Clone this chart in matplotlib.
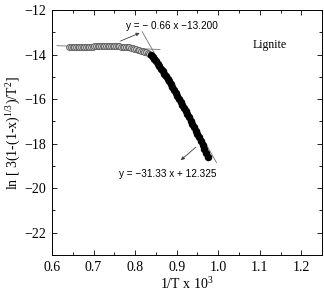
import matplotlib
matplotlib.use('Agg')
import matplotlib.pyplot as plt
from matplotlib.ticker import MultipleLocator

plt.rcParams['font.family'] = ['Liberation Serif', 'DejaVu Serif']
plt.rcParams['mathtext.fontset'] = 'custom'
plt.rcParams['mathtext.rm'] = 'Liberation Serif'
plt.rcParams['mathtext.it'] = 'Liberation Serif'

# low temperature region (open circles)
x_low = [0.642, 0.646, 0.650, 0.654, 0.658, 0.662, 0.666, 0.670, 0.674, 0.678,
         0.682, 0.686, 0.690, 0.694, 0.698, 0.702, 0.706, 0.710, 0.714, 0.718,
         0.722, 0.726, 0.730, 0.734, 0.738, 0.742, 0.746, 0.750, 0.754, 0.758,
         0.762, 0.766, 0.770, 0.774, 0.778, 0.782, 0.786, 0.790, 0.794, 0.798,
         0.802, 0.806, 0.810, 0.814, 0.818, 0.822, 0.826, 0.830, 0.834]
y_low = [-13.67, -13.67, -13.67, -13.66, -13.66, -13.66, -13.66, -13.65, -13.65, -13.65,
         -13.65, -13.64, -13.64, -13.64, -13.64, -13.63, -13.63, -13.63, -13.63, -13.63,
         -13.62, -13.62, -13.62, -13.62, -13.62, -13.62, -13.62, -13.62, -13.62, -13.63,
         -13.63, -13.64, -13.64, -13.65, -13.66, -13.67, -13.68, -13.70, -13.72, -13.74,
         -13.76, -13.78, -13.80, -13.83, -13.85, -13.88, -13.90, -13.93, -13.96]

# high temperature region (filled circles)
x_high = [0.838, 0.842, 0.846, 0.850, 0.854, 0.858, 0.862, 0.866, 0.870, 0.874,
          0.878, 0.882, 0.886, 0.890, 0.894, 0.898, 0.902, 0.906, 0.910, 0.914,
          0.918, 0.922, 0.926, 0.930, 0.934, 0.938, 0.942, 0.946, 0.950, 0.954,
          0.958, 0.963, 0.967, 0.971, 0.975]
y_high = [-14.00, -14.10, -14.20, -14.30, -14.41, -14.52, -14.63, -14.74, -14.85, -14.96,
          -15.08, -15.20, -15.33, -15.46, -15.59, -15.72, -15.85, -15.98, -16.11, -16.25,
          -16.39, -16.53, -16.67, -16.81, -16.96, -17.11, -17.26, -17.41, -17.56, -17.71,
          -17.86, -18.07, -18.25, -18.43, -18.62]

# fitted lines as drawn
fit1_x = [0.612, 0.860]
fit1_y = [-13.60, -13.77]
fit2_x = [0.817, 0.996]
fit2_y = [-12.97, -18.85]

eq1 = 'y = \u2212 0.66 x \u221213.200'
eq2 = 'y = \u221231.33 x + 12.325'

fig = plt.figure(figsize=(3.24, 2.96), dpi=100)
ax = fig.add_axes([0.1605, 0.1385, 0.8335, 0.8275])

ax.plot(fit1_x, fit1_y, color='0.45', lw=0.6, zorder=1)
ax.plot(fit2_x, fit2_y, color='0.45', lw=0.6, zorder=1)

ax.plot(x_low, y_low, 'o', ms=4.2, mfc='0.8', mec='0.35', mew=0.6, zorder=2)
ax.plot(x_high, y_high, 'o', ms=4.4, color='black', zorder=3)

ax.annotate('', xy=(0.811, -13.03), xytext=(0.765, -13.39),
            arrowprops=dict(arrowstyle='-|>', color='0.25', lw=0.6,
                            mutation_scale=5, shrinkA=0, shrinkB=0))
ax.annotate('', xy=(0.910, -18.74), xytext=(0.946, -18.16),
            arrowprops=dict(arrowstyle='-|>', color='0.25', lw=0.6,
                            mutation_scale=5, shrinkA=0, shrinkB=0))

ax.text(0.777, -12.71, eq1, fontsize=7.2, family='Liberation Sans', va='center', ha='left')
ax.text(0.762, -19.37, eq2, fontsize=7.2, family='Liberation Sans', va='center', ha='left')
ax.text(1.084, -13.56, 'Lignite', fontsize=8.5, va='center', ha='left')

ax.set_xlim(0.6, 1.25)
ax.set_ylim(-23, -12)
ax.xaxis.set_major_locator(MultipleLocator(0.1))
ax.xaxis.set_minor_locator(MultipleLocator(0.05))
ax.yaxis.set_major_locator(MultipleLocator(2))
ax.yaxis.set_minor_locator(MultipleLocator(1))
ax.xaxis.set_major_formatter(plt.FuncFormatter(lambda v, p: f'{v:.1f}'))
ax.tick_params(which='both', direction='in', top=True, right=True, labelsize=10, width=0.6)
ax.tick_params(which='major', length=3.5, pad=4)
ax.tick_params(which='minor', length=2)
for s in ax.spines.values():
    s.set_linewidth(0.7)

ax.set_xlabel('1/T x 10$^3$', fontsize=10, labelpad=2)
ax.set_ylabel('ln [ 3(1-(1-x)$^{1/3}$)/T$^2$]', fontsize=10, labelpad=1)

fig.savefig('out.png', dpi=100)
